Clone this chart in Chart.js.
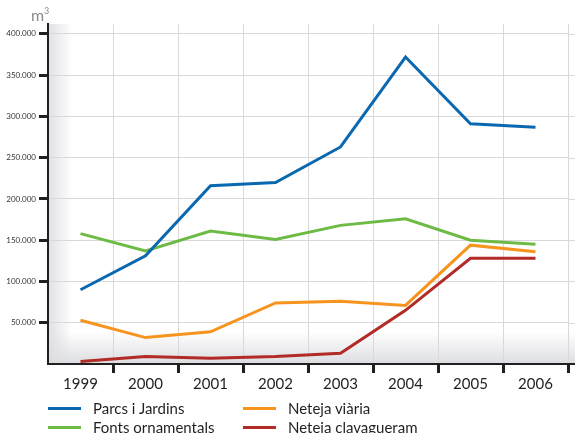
<!DOCTYPE html>
<html>
<head>
<meta charset="utf-8">
<script src="https://cdn.jsdelivr.net/npm/chart.js@4"></script>
<style>
  html, body { margin: 0; padding: 0; background: #fff; }
  #wrap { position: relative; width: 575px; height: 433px; overflow: hidden; }
  #chart { position: absolute; left: 0; top: 0; }
  .leg { position: absolute; font-family: Lato, sans-serif; font-size: 15px; color: #231f20; white-space: nowrap; line-height: 18px; }
  .leg i { position: absolute; left: 0; top: 8px; width: 33px; height: 3px; }
  .leg span { position: absolute; left: 45px; top: 0; }
</style>
</head>
<body>
<div id="wrap">
  <canvas id="chart" width="575" height="433"></canvas>
  <div id="legend"></div>
</div>
<script>
var years = ['1999', '2000', '2001', '2002', '2003', '2004', '2005', '2006'];
var parcsJardins = [90000, 131000, 216000, 220000, 263000, 372000, 291000, 287000];
var fontsOrnamentals = [158000, 137000, 161000, 151000, 168000, 176000, 150000, 145000];
var netejaViaria = [53000, 32000, 39000, 74000, 76000, 71000, 144000, 136000];
var netejaClavagueram = [3000, 9000, 7000, 9000, 13000, 65000, 128000, 128000];
var yTicks = [50000, 100000, 150000, 200000, 250000, 300000, 350000, 400000];

var seriesNames = ['Parcs i Jardins', 'Neteja viària', 'Fonts ornamentals', 'Neteja clavagueram'];
var seriesColors = ['#0a68b0', '#f7941d', '#6dbb45', '#b22b26'];
var seriesData = [parcsJardins, netejaViaria, fontsOrnamentals, netejaClavagueram];

function fmt(v) {
  return String(v).replace(/\B(?=(\d{3})+(?!\d))/g, '.');
}

// legend in two columns, two rows
var legendPos = [[48, 399], [243, 399], [48, 418], [243, 418]];
var legendHtml = '';
seriesNames.forEach(function (name, i) {
  legendHtml += '<div class="leg" style="left:' + legendPos[i][0] + 'px;top:' + legendPos[i][1] + 'px">' +
    '<i style="background:' + seriesColors[i] + '"></i><span>' + name + '</span></div>';
});
document.getElementById('legend').innerHTML = legendHtml;

var decor = {
  id: 'decor',
  beforeDraw: function (chart) {
    var ctx = chart.ctx, a = chart.chartArea;
    ctx.save();
    var g = ctx.createLinearGradient(a.left, 0, a.left + 24, 0);
    g.addColorStop(0, 'rgba(222,223,226,1)');
    g.addColorStop(1, 'rgba(222,223,226,0)');
    ctx.fillStyle = g;
    ctx.fillRect(a.left, a.top, 24, a.bottom - a.top);
    var g2 = ctx.createLinearGradient(0, a.bottom, 0, a.bottom - 32);
    g2.addColorStop(0, 'rgba(220,221,224,1)');
    g2.addColorStop(1, 'rgba(220,221,224,0)');
    ctx.fillStyle = g2;
    ctx.fillRect(a.left, a.bottom - 32, chart.width - a.left, 32);
    ctx.restore();
  },
  beforeDatasetsDraw: function (chart) {
    var ctx = chart.ctx, a = chart.chartArea, y = chart.scales.y;
    ctx.save();
    ctx.strokeStyle = '#d9d9d9';
    ctx.lineWidth = 1;
    yTicks.forEach(function (v) {
      var py = Math.round(y.getPixelForValue(v)) + 0.5;
      ctx.beginPath();
      ctx.moveTo(a.right, py);
      ctx.lineTo(chart.width, py);
      ctx.stroke();
    });
    ctx.strokeStyle = '#231f20';
    ctx.lineWidth = 2;
    ctx.beginPath();
    ctx.moveTo(a.right, a.bottom);
    ctx.lineTo(chart.width, a.bottom);
    ctx.stroke();
    ctx.fillStyle = '#8a8a8a';
    ctx.font = '16px Lato, sans-serif';
    ctx.textBaseline = 'alphabetic';
    ctx.fillText('m', 31, 21);
    ctx.font = '9px Lato, sans-serif';
    ctx.fillText('3', 44, 14);
    ctx.restore();
  }
};

new Chart(document.getElementById('chart'), {
  type: 'line',
  plugins: [decor],
  data: {
    labels: years,
    datasets: seriesNames.map(function (name, i) {
      return {
        label: name,
        data: seriesData[i],
        borderColor: seriesColors[i],
        backgroundColor: seriesColors[i],
        borderWidth: 3,
        pointRadius: 0,
        tension: 0,
        fill: false
      };
    })
  },
  options: {
    responsive: false,
    animation: false,
    layout: { padding: { top: 24, right: 7, bottom: 0, left: 0 } },
    plugins: { legend: { display: false }, tooltip: { enabled: false } },
    scales: {
      x: {
        offset: true,
        afterFit: function (scale) { scale.height = 69; },
        grid: {
          offset: true,
          color: '#d9d9d9',
          lineWidth: 1,
          tickColor: function (c) { return c.index === 0 ? 'rgba(0,0,0,0)' : '#231f20'; },
          tickWidth: 3,
          tickLength: 9
        },
        border: { color: '#231f20', width: 2 },
        ticks: { color: '#231f20', font: { family: 'Lato', size: 15 }, padding: 2, maxRotation: 0 }
      },
      y: {
        min: 0,
        max: 412000,
        afterFit: function (scale) { scale.width = 48; },
        afterBuildTicks: function (scale) {
          scale.ticks = yTicks.map(function (v) { return { value: v }; });
        },
        grid: { color: '#d9d9d9', lineWidth: 1, tickColor: '#231f20', tickWidth: 3, tickLength: 9 },
        border: { color: '#231f20', width: 2 },
        ticks: {
          color: '#333',
          font: { family: 'Lato', size: 8 },
          padding: 3,
          callback: function (v) { return fmt(v); }
        }
      }
    }
  }
});
</script>
</body>
</html>
